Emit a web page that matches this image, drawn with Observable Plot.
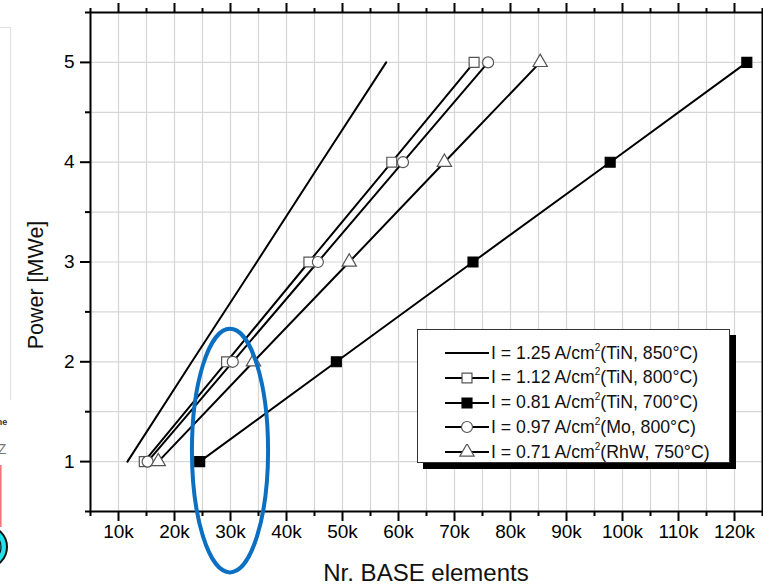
<!DOCTYPE html>
<html><head><meta charset="utf-8">
<script src="https://cdn.jsdelivr.net/npm/d3@7"></script>
<script src="https://cdn.jsdelivr.net/npm/@observablehq/plot@0.6"></script>
<style>
html,body{margin:0;padding:0;background:#fff;}
#wrap{position:relative;width:763px;height:585px;overflow:hidden;font-family:"Liberation Sans",Arial,sans-serif;}
#legend{position:absolute;left:417px;top:329px;width:313px;height:134px;border:1px solid #333;background:#fff;box-shadow:6px 6px 0 #000;box-sizing:border-box;}
.row{position:absolute;left:27px;height:24px;display:flex;align-items:center;font-size:17.7px;color:#111;white-space:nowrap;}
.row svg{margin-right:2px;flex:none;}
sup{font-size:10px;vertical-align:top;position:relative;top:-1px;}
</style></head>
<body><div id="wrap"></div>
<script>
// ---- data ----
const powerMW = [1, 2, 3, 4, 5];
const xI125 = [11600, 23100, 34700, 46200, 57800];   // I = 1.25 (TiN, 850°C), line only
const xI112 = [14600, 29300, 44000, 58800, 73500];   // open squares
const xI081 = [24500, 48900, 73300, 97800, 122200];  // filled squares
const xI097 = [15200, 30400, 45600, 60800, 76000];   // open circles
const xI071 = [17100, 34100, 51200, 68200, 85300];   // open triangles
const seriesLabels = [
  ["I = 1.25 A/cm", "(TiN, 850°C)"],
  ["I = 1.12 A/cm", "(TiN, 800°C)"],
  ["I = 0.81 A/cm", "(TiN, 700°C)"],
  ["I = 0.97 A/cm", "(Mo, 800°C)"],
  ["I = 0.71 A/cm", "(RhW, 750°C)"]
];
const xMajorTicks = [10000, 20000, 30000, 40000, 50000, 60000, 70000, 80000, 90000, 100000, 110000, 120000];
const xMinorTicks = [5000, 15000, 25000, 35000, 45000, 55000, 65000, 75000, 85000, 95000, 105000, 115000, 125000];
const yMajorTicks = [1, 2, 3, 4, 5];
const yMinorTicks = [0.5, 1.5, 2.5, 3.5, 4.5, 5.5];
const xLabel = "Nr. BASE elements";
const yLabel = "Power [MWe]";
// highlight ellipse annotation (data units)
const ellipseCenter = {x: 30000, y: 1.105};
const ellipseRadius = {x: 6800, y: 1.22};

const series = [
  {xs: xI125, symbol: null},
  {xs: xI112, symbol: "square", fill: "white", stroke: "#555"},
  {xs: xI081, symbol: "square", fill: "black", stroke: "black"},
  {xs: xI097, symbol: "circle", fill: "white", stroke: "#555"},
  {xs: xI071, symbol: "triangle", fill: "white", stroke: "#555"}
];
const symR = {square: 5.6, circle: 5.5, triangle: 5.3};

const marks = [
  Plot.ruleX(xMajorTicks.concat(xMinorTicks), {stroke: "#d6d6d6", strokeWidth: 1.2}),
  Plot.ruleY(yMajorTicks.concat(yMinorTicks), {stroke: "#d6d6d6", strokeWidth: 1.2})
];
series.forEach((s) => {
  const rows = powerMW.map((p, j) => ({x: s.xs[j], y: p}));
  marks.push(Plot.line(rows, {x: "x", y: "y", stroke: "black", strokeWidth: 2}));
});
series.forEach((s) => {
  if (!s.symbol) return;
  const rows = powerMW.map((p, j) => ({x: s.xs[j], y: p}));
  marks.push(Plot.dot(rows, {x: "x", y: "y", symbol: () => s.symbol, r: symR[s.symbol], fill: s.fill, stroke: s.stroke, strokeWidth: 1.2}));
});
const fmtK = d => (d / 1000) + "k";
marks.push(
  Plot.frame({stroke: "black", strokeWidth: 2}),
  Plot.axisX(xMajorTicks, {anchor: "bottom", tickSize: 10, tickPadding: 3, strokeWidth: 2, tickFormat: fmtK, fontSize: 19, label: null}),
  Plot.axisX(xMinorTicks, {anchor: "bottom", tickSize: 5, strokeWidth: 2, text: null, label: null}),
  Plot.axisX(xMajorTicks, {anchor: "top", tickSize: 10, strokeWidth: 2, text: null, label: null}),
  Plot.axisX(xMinorTicks, {anchor: "top", tickSize: 5, strokeWidth: 2, text: null, label: null}),
  Plot.axisY(yMajorTicks, {anchor: "left", tickSize: 10, tickPadding: 6, strokeWidth: 2, tickFormat: d => String(d), fontSize: 19, label: null}),
  Plot.axisY(yMinorTicks, {anchor: "left", tickSize: 5, strokeWidth: 2, text: null, label: null})
);

const chart = Plot.plot({
  width: 763, height: 585,
  marginLeft: 90, marginRight: 1, marginTop: 12, marginBottom: 74,
  style: {fontFamily: '"Liberation Sans", Arial, sans-serif', fontSize: "19px", color: "black", background: "white", overflow: "visible"},
  x: {domain: [5000, 125000], axis: null},
  y: {domain: [0.5, 5.5], axis: null},
  marks
});
const wrap = document.getElementById("wrap");
wrap.appendChild(chart);
const svgSel = d3.select(chart);

// axis titles
svgSel.append("text").attr("x", 426).attr("y", 581).attr("text-anchor", "middle")
  .attr("font-size", 24).attr("fill", "#111").text(xLabel);
svgSel.append("text").attr("transform", "translate(43,285) rotate(-90)").attr("text-anchor", "middle")
  .attr("font-size", 21.5).attr("fill", "#111").text(yLabel);

// blue highlight ellipse placed through the scales
const sx = chart.scale("x"), sy = chart.scale("y");
const cx = sx.apply(ellipseCenter.x), cy = sy.apply(ellipseCenter.y);
const rx = sx.apply(ellipseCenter.x + ellipseRadius.x) - cx;
const ry = sy.apply(ellipseCenter.y) - sy.apply(ellipseCenter.y + ellipseRadius.y);
svgSel.append("ellipse")
  .attr("cx", cx).attr("cy", cy).attr("rx", rx).attr("ry", ry)
  .attr("fill", "none").attr("stroke", "#0b6fc2").attr("stroke-width", 4);

// legend
const legend = document.createElement("div");
legend.id = "legend";
wrap.appendChild(legend);
series.forEach((s, i) => {
  const row = document.createElement("div");
  row.className = "row";
  row.style.top = (11 + i * 24.8) + "px";
  const svg = d3.create("svg").attr("width", 44).attr("height", 16);
  svg.append("line").attr("x1", 0).attr("x2", 44).attr("y1", 8).attr("y2", 8).attr("stroke", "black").attr("stroke-width", 2);
  if (s.symbol) {
    const t = {square: d3.symbolSquare, circle: d3.symbolCircle, triangle: d3.symbolTriangle}[s.symbol];
    const r = symR[s.symbol];
    svg.append("path").attr("transform", "translate(22,8)")
      .attr("d", d3.symbol(t, Math.PI * r * r)())
      .attr("fill", s.fill).attr("stroke", s.stroke).attr("stroke-width", 1.2);
  }
  row.appendChild(svg.node());
  const span = document.createElement("span");
  span.innerHTML = seriesLabels[i][0] + "<sup>2</sup>" + seriesLabels[i][1];
  row.appendChild(span);
  legend.appendChild(row);
});

// fragments of the neighbouring figure at the left edge
svgSel.append("path").attr("d", "M0,27.5H10.5V400").attr("fill", "none").attr("stroke", "#e2e2e2").attr("stroke-width", 1.2);
svgSel.append("text").attr("x", 2).attr("y", 425).attr("font-size", 9).attr("font-weight", "bold").attr("fill", "#333").text("ne");
svgSel.append("text").attr("x", 2).attr("y", 454).attr("font-size", 14).attr("fill", "#777").text("Z");
svgSel.append("line").attr("x1", 0.8).attr("x2", 0.8).attr("y1", 465).attr("y2", 527).attr("stroke", "#f07878").attr("stroke-width", 1.6);
svgSel.append("circle").attr("cx", -14).attr("cy", 547).attr("r", 21).attr("fill", "#22e3ea").attr("stroke", "#111").attr("stroke-width", 2);
svgSel.append("circle").attr("cx", -14).attr("cy", 547).attr("r", 15).attr("fill", "none").attr("stroke", "#111").attr("stroke-width", 1.2);
</script></body></html>
